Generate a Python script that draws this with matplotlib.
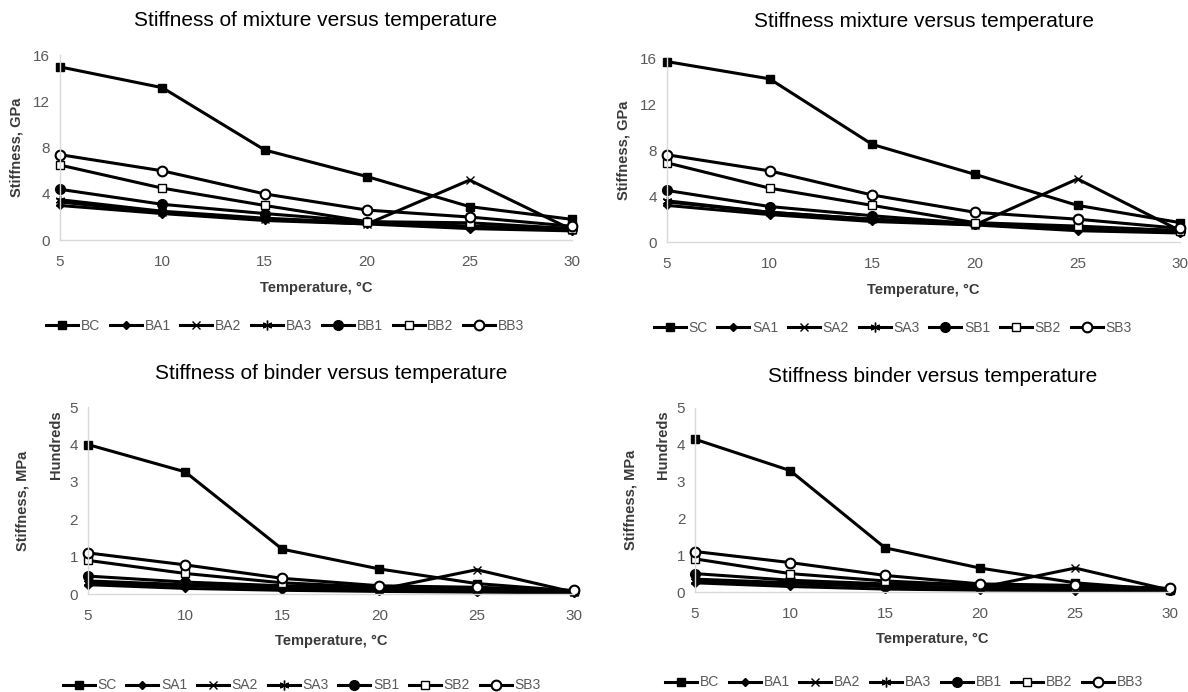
import numpy as np
import matplotlib.pyplot as plt

plt.rcParams['font.family'] = ['Liberation Sans', 'DejaVu Sans']

temps = [5, 10, 15, 20, 25, 30]

# mixture stiffness, GPa (B series)
mix_b_labels = ['BC', 'BA1', 'BA2', 'BA3', 'BB1', 'BB2', 'BB3']
mix_bc = [15.0, 13.2, 7.8, 5.5, 2.9, 1.8]
mix_ba1 = [3.0, 2.3, 1.7, 1.4, 1.0, 0.8]
mix_ba2 = [3.3, 2.4, 1.8, 1.4, 5.2, 0.9]
mix_ba3 = [3.5, 2.5, 1.9, 1.5, 1.2, 0.9]
mix_bb1 = [4.4, 3.1, 2.3, 1.6, 1.2, 1.0]
mix_bb2 = [6.5, 4.5, 3.0, 1.6, 1.5, 1.0]
mix_bb3 = [7.4, 6.0, 4.0, 2.6, 2.0, 1.2]

# mixture stiffness, GPa (S series)
mix_s_labels = ['SC', 'SA1', 'SA2', 'SA3', 'SB1', 'SB2', 'SB3']
mix_sc = [15.7, 14.2, 8.5, 5.9, 3.2, 1.7]
mix_sa1 = [3.2, 2.4, 1.8, 1.5, 1.0, 0.8]
mix_sa2 = [3.5, 2.6, 2.0, 1.5, 5.5, 1.0]
mix_sa3 = [3.6, 2.6, 2.0, 1.6, 1.2, 0.9]
mix_sb1 = [4.5, 3.1, 2.3, 1.6, 1.3, 1.0]
mix_sb2 = [6.9, 4.7, 3.2, 1.7, 1.4, 1.0]
mix_sb3 = [7.6, 6.2, 4.1, 2.6, 2.0, 1.2]

# binder stiffness, hundreds of MPa (S series)
bin_s_labels = ['SC', 'SA1', 'SA2', 'SA3', 'SB1', 'SB2', 'SB3']
bin_sc = [4.0, 3.27, 1.2, 0.67, 0.28, 0.08]
bin_sa1 = [0.25, 0.15, 0.10, 0.07, 0.05, 0.03]
bin_sa2 = [0.35, 0.25, 0.18, 0.12, 0.65, 0.05]
bin_sa3 = [0.30, 0.22, 0.16, 0.10, 0.08, 0.05]
bin_sb1 = [0.48, 0.32, 0.22, 0.15, 0.12, 0.07]
bin_sb2 = [0.90, 0.55, 0.30, 0.18, 0.15, 0.08]
bin_sb3 = [1.10, 0.78, 0.42, 0.22, 0.18, 0.10]

# binder stiffness, hundreds of MPa (B series)
bin_b_labels = ['BC', 'BA1', 'BA2', 'BA3', 'BB1', 'BB2', 'BB3']
bin_bc = [4.15, 3.3, 1.2, 0.65, 0.25, 0.05]
bin_ba1 = [0.25, 0.15, 0.08, 0.05, 0.04, 0.03]
bin_ba2 = [0.35, 0.25, 0.17, 0.12, 0.65, 0.05]
bin_ba3 = [0.30, 0.22, 0.15, 0.10, 0.08, 0.05]
bin_bb1 = [0.50, 0.32, 0.22, 0.20, 0.12, 0.06]
bin_bb2 = [0.90, 0.50, 0.30, 0.18, 0.14, 0.07]
bin_bb3 = [1.10, 0.80, 0.45, 0.22, 0.18, 0.10]

# marker style per series position
styles = [
    dict(marker='s', ms=6, mfc='black'),
    dict(marker='D', ms=4.5, mfc='black'),
    dict(marker='x', ms=6, mfc='black', mew=1.0),
    dict(marker=(6, 2, 0), ms=7, mfc='black', mew=1.0),
    dict(marker='o', ms=7, mfc='black'),
    dict(marker='s', ms=6, mfc='white', mew=1.0),
    dict(marker='o', ms=7, mfc='white', mew=1.5),
]

tick_col = '#595959'
lab_col = '#3a3a3a'

fig = plt.figure(figsize=(11.88, 6.92), dpi=100)


def panel(rect, title, labels, series, ymax, ystep, ylabel, leg_y, title_y,
          hundreds=False):
    ax = fig.add_axes(rect)
    for lab, ys, st in zip(labels, series, styles):
        ax.plot(temps, ys, color='black', lw=2.2, mec='black', label=lab,
                clip_on=False, **st)
    ax.set_xlim(5, 30)
    ax.set_ylim(0, ymax)
    ax.set_xticks(temps)
    ax.set_yticks(np.arange(0, ymax + 0.01, ystep))
    for s in ['top', 'right']:
        ax.spines[s].set_visible(False)
    for s in ['left', 'bottom']:
        ax.spines[s].set_color('#d9d9d9')
        ax.spines[s].set_linewidth(1.0)
    ax.tick_params(length=0, colors=tick_col, labelsize=11, pad=11)
    ax.tick_params(axis='y', pad=7)
    ax.set_title(title, fontsize=15, color='black', pad=0, y=title_y)
    ax.set_xlabel('Temperature, °C', fontsize=10.5, fontweight='bold',
                  color=lab_col, labelpad=8)
    if hundreds:
        ax.set_ylabel('Hundreds', fontsize=10.5, fontweight='bold',
                      color=lab_col)
        ax.yaxis.set_label_coords(-0.052, 0.8)
        ax.text(-0.135, 0.5, ylabel, transform=ax.transAxes, rotation=90,
                ha='center', va='center', fontsize=10.5, fontweight='bold',
                color=lab_col)
    else:
        ax.set_ylabel(ylabel, fontsize=10.5, fontweight='bold', color=lab_col,
                      labelpad=7)
    ax.legend(loc='upper center', bbox_to_anchor=(0.44, leg_y), ncol=7,
              frameon=False, fontsize=10, handlelength=2.3, handletextpad=0.2,
              columnspacing=0.7, labelcolor=tick_col)
    return ax


panel([0.0505, 0.653, 0.431, 0.267], 'Stiffness of mixture versus temperature',
      mix_b_labels,
      [mix_bc, mix_ba1, mix_ba2, mix_ba3, mix_bb1, mix_bb2, mix_bb3],
      16, 4, 'Stiffness, GPa', -0.36, 1.16)
panel([0.5614, 0.650, 0.432, 0.266], 'Stiffness mixture versus temperature',
      mix_s_labels,
      [mix_sc, mix_sa1, mix_sa2, mix_sa3, mix_sb1, mix_sb2, mix_sb3],
      16, 4, 'Stiffness, GPa', -0.36, 1.17)
panel([0.074, 0.1416, 0.409, 0.270], 'Stiffness of binder versus temperature',
      bin_s_labels,
      [bin_sc, bin_sa1, bin_sa2, bin_sa3, bin_sb1, bin_sb2, bin_sb3],
      5, 1, 'Stiffness, MPa', -0.385, 1.15, hundreds=True)
panel([0.585, 0.1445, 0.400, 0.266], 'Stiffness binder versus temperature',
      bin_b_labels,
      [bin_bc, bin_ba1, bin_ba2, bin_ba3, bin_bb1, bin_bb2, bin_bb3],
      5, 1, 'Stiffness, MPa', -0.385, 1.14, hundreds=True)

fig.savefig('out.png', dpi=100)
